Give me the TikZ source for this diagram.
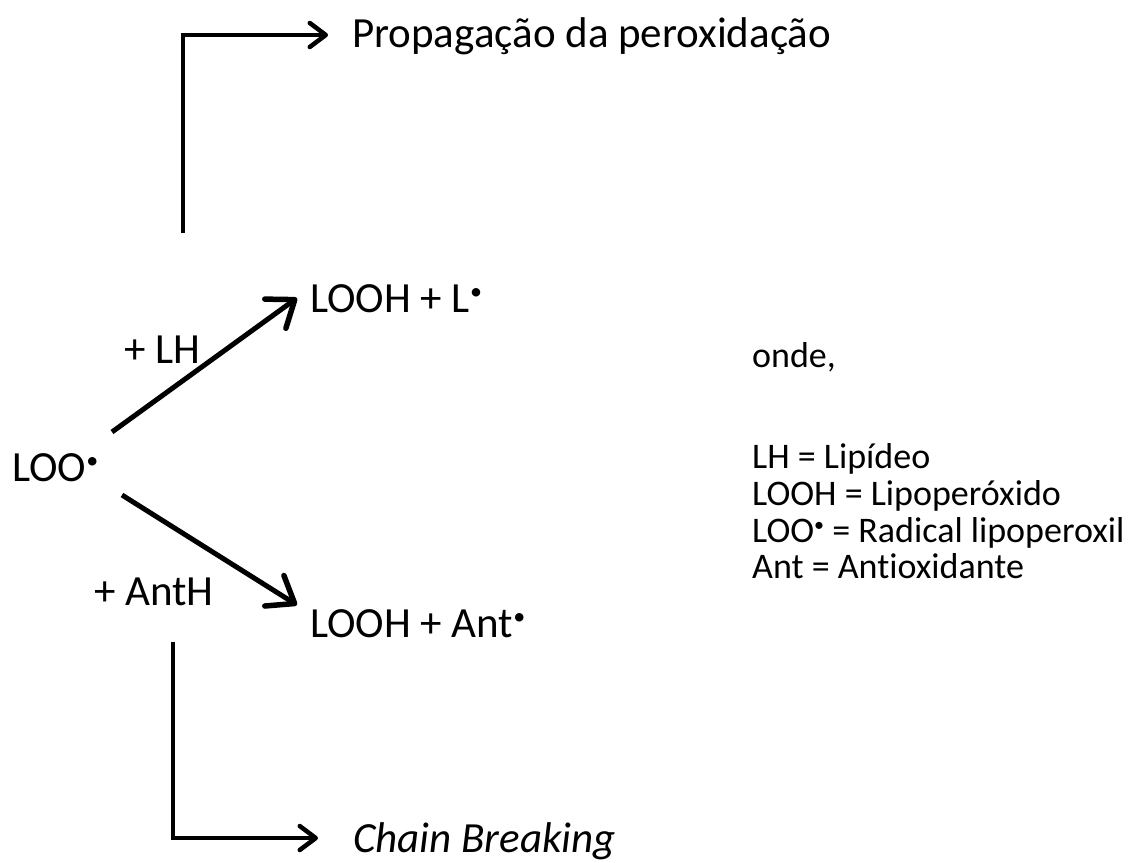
\documentclass[tikz,border=0pt]{standalone}
\usepackage{fontspec}
\setmainfont{Carlito}[Ligatures=NoCommon]
\usetikzlibrary{arrows.meta}
\newcommand\radA{\raisebox{13pt}{\fontsize{24}{24}\selectfont •}}
\newcommand\radB{\raisebox{11pt}{\fontsize{20}{20}\selectfont •}}
\begin{document}
\begin{tikzpicture}[x=1pt,y=-1pt,
  lbl/.style={font=\fontsize{43}{50}\selectfont, inner sep=0pt, anchor=base west},
  leg/.style={font=\fontsize{36}{37}\selectfont, inner sep=0pt, anchor=base west},
  rxn/.style={line width=5pt, -{Straight Barb[length=24pt,width=36pt,line width=5.5pt,round]}},
  bent/.style={line width=3.8pt, -{Straight Barb[length=16pt,width=24pt,line width=4.5pt,round]}}]
\useasboundingbox (0,0) rectangle (1135,862);
% texts
\node[lbl] (prop) at (352,47) {Propagação da peroxidação};
\node[lbl] (p1) at (310,312) {LOOH + L\radA};
\node[lbl] (loo) at (12,481) {LOO\radA};
\node[lbl] (plh) at (124,363) {+ LH};
\node[lbl] (pant) at (94,605) {+ AntH};
\node[lbl] (p2) at (310,637) {LOOH + Ant\radA};
\node[lbl] (cb) at (353,852) {\itshape Chain Breaking};
% legend
\node[leg] (onde) at (752,367) {onde,};
\node[leg] (l1) at (752,468) {LH = Lipídeo};
\node[leg] (l2) at (752,505) {LOOH = Lipoperóxido};
\node[leg] (l3) at (752,542) {LOO\radB{} = Radical lipoperoxil};
\node[leg] (l4) at (752,578) {Ant = Antioxidante};
% reaction arrows
\coordinate (a1s) at (112,432);
\coordinate (a1e) at (297,298);
\coordinate (a2s) at (122,495);
\coordinate (a2e) at (297,605);
\draw[rxn] (a1s) -- (a1e);
\draw[rxn] (a2s) -- (a2e);
% bent connectors
\coordinate (t0) at (183,233);
\coordinate (t1) at (183,35);
\coordinate (t2) at (328,35);
\draw[bent] (t0) -- (t1) -- (t2);
\coordinate (b0) at (173,642);
\coordinate (b1) at (173,838);
\coordinate (b2) at (318,838);
\draw[bent] (b0) -- (b1) -- (b2);
\end{tikzpicture}
\end{document}
